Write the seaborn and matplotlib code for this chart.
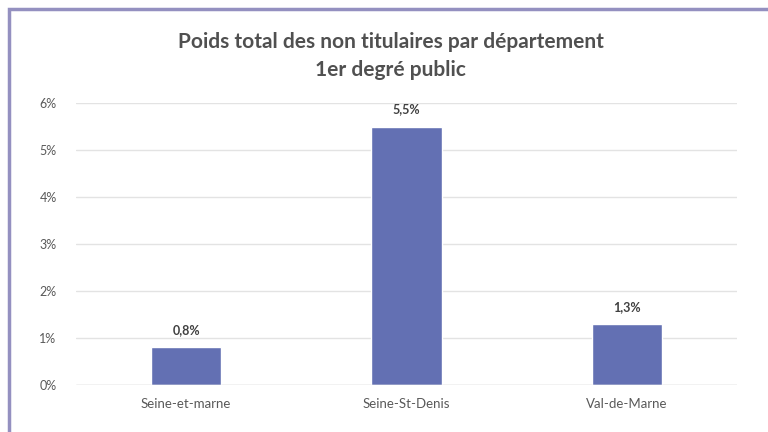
import matplotlib
matplotlib.use("Agg")
import matplotlib.pyplot as plt
import matplotlib.patches as mpatches
import seaborn as sns
import pandas as pd
from matplotlib.ticker import FuncFormatter

# data
departements = ["Seine-et-marne", "Seine-St-Denis", "Val-de-Marne"]
poids = [0.8, 5.5, 1.3]
valeur_labels = ["0,8%", "5,5%", "1,3%"]

sns.set_theme(style="white")
plt.rcParams["font.family"] = ["Lato", "DejaVu Sans"]

df = pd.DataFrame({"departement": departements, "poids": poids})

fig = plt.figure(figsize=(7.68, 4.32), dpi=100)
ax = fig.add_axes([76 / 768, 1 - 385 / 432, (737 - 76) / 768, (385 - 103) / 432])

sns.barplot(data=df, x="departement", y="poids", color="#6370b3",
            saturation=1, width=0.32, ax=ax)

ax.set_ylim(0, 6)
ax.set_yticks(range(0, 7))
ax.yaxis.set_major_formatter(FuncFormatter(lambda v, _: f"{v:.0f}%"))
ax.grid(axis="y", color="#e3e3e3", linewidth=1)
ax.set_axisbelow(True)
sns.despine(ax=ax, left=True, bottom=True, top=True, right=True)
ax.axhline(0, color="#d9d9d9", linewidth=1)
ax.set_xlabel("")
ax.set_ylabel("")
ax.tick_params(axis="y", labelsize=9, colors="#595959", length=0, pad=14)
ax.tick_params(axis="x", labelsize=9.5, colors="#595959", length=0, pad=9)

for bar, lab in zip(ax.patches, valeur_labels):
    ax.annotate(lab, (bar.get_x() + bar.get_width() / 2, bar.get_height()),
                xytext=(0, 8), textcoords="offset points", ha="center",
                va="bottom", fontsize=9, fontweight="bold", color="#404040")

fig.text(0.509, 1 - 42 / 432, "Poids total des non titulaires par département",
         ha="center", va="center", fontsize=15, fontweight="bold", color="#505050")
fig.text(0.509, 1 - 70 / 432, "1er degré public",
         ha="center", va="center", fontsize=15, fontweight="bold", color="#505050")

# purple frame around the chart (cropped on the right and bottom)
fig.patches.append(mpatches.Rectangle((9 / 768, -0.05), 1.1, 1 - 9 / 432 + 0.05,
                                      transform=fig.transFigure, fill=False,
                                      edgecolor="#9490c0", linewidth=2.5))

fig.savefig("out.png", dpi=100)
